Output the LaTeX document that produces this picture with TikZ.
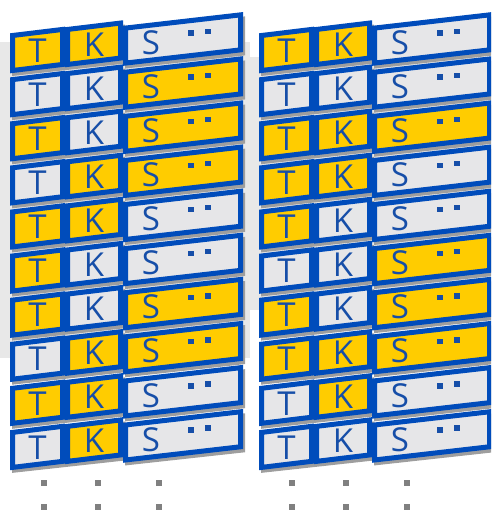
\documentclass[tikz,border=0pt]{standalone}
\usepackage{fontspec}
\setmainfont{Open Sans}
\definecolor{cardblue}{RGB}{0,76,187}
\definecolor{fillY}{RGB}{255,204,0}
\definecolor{fillG}{RGB}{230,230,232}
\definecolor{inkblue}{RGB}{22,78,168}
\tikzset{
  card/.style={draw=cardblue,line width=5pt,line join=miter},
  drop/.style={fill=black!38},
  lbl/.style={text=inkblue,font=\fontsize{33}{33}\selectfont,inner sep=0pt},
  sq/.style={fill=inkblue},
  more/.style={fill=black!50}
}
% #1 column x, #2 from, #3 to, #4 row top, #5 drop, #6 fill
\newcommand{\onecard}[6]{%
  \pgfmathsetmacro\ya{#4+#5-0.11*(#2)}
  \pgfmathsetmacro\yb{#4+#5-0.11*(#3)}
  \fill[drop] (#1+#2+2,\ya+4) -- (#1+#3+2,\yb+4) -- (#1+#3+2,\yb+43) -- (#1+#2+2,\ya+43) -- cycle;
  \filldraw[card,fill=#6] (#1+#2+2.5,\ya+2.5) -- (#1+#3-2.5,\yb+2.5) -- (#1+#3-2.5,\yb+37.5) -- (#1+#2+2.5,\ya+37.5) -- cycle;
}
% #1 column name, #2 column x, #3 row list
\newcommand{\tkcolumn}[3]{%
  \foreach \t/\k/\s [count=\r from 0] in {#3} {
    \pgfmathsetmacro\top{33+44.1*\r}
    \onecard{#2}{0}{55}{\top}{0}{fill\t}
    \onecard{#2}{55}{113}{\top}{0}{fill\k}
    \onecard{#2}{113}{233}{\top}{5}{fill\s}
    \node[lbl] (T#1\r) at (#2+27.5,\top-0.11*27.5+20.5) {T};
    \node[lbl] (K#1\r) at (#2+84,\top-0.11*84+20.5) {K};
    \node[lbl] (S#1\r) at (#2+141,\top-0.11*141+25) {S};
    \fill[sq] (#2+181-2.7,\top-0.11*181+20-2.7) rectangle ++(5.4,5.4);
    \fill[sq] (#2+198-2.7,\top-0.11*198+20-2.7) rectangle ++(5.4,5.4);
  }
}

\begin{document}
\begin{tikzpicture}[x=1pt,y=-1pt]
\useasboundingbox (0,0) rectangle (491,514);
\clip (0,0) rectangle (491,514);
\fill[black!9] (0,42) rectangle (250,358);
\fill[black!9] (245,57) rectangle (491,310);
\tkcolumn{L}{10}{Y/Y/G,G/G/Y,Y/G/Y,G/Y/Y,Y/Y/G,Y/G/G,Y/G/Y,G/Y/Y,Y/Y/G,G/Y/G}
\tkcolumn{R}{259}{Y/Y/G,G/G/G,Y/Y/Y,Y/Y/G,Y/G/G,G/G/Y,Y/G/Y,Y/Y/Y,G/Y/G,G/G/G}
% dots below
\foreach \x in {44,98,159,292,346,407}
  \foreach \y in {483,507}
    \fill[more] (\x-3.2,\y-3.2) rectangle ++(6.4,6.4);
\end{tikzpicture}
\end{document}
